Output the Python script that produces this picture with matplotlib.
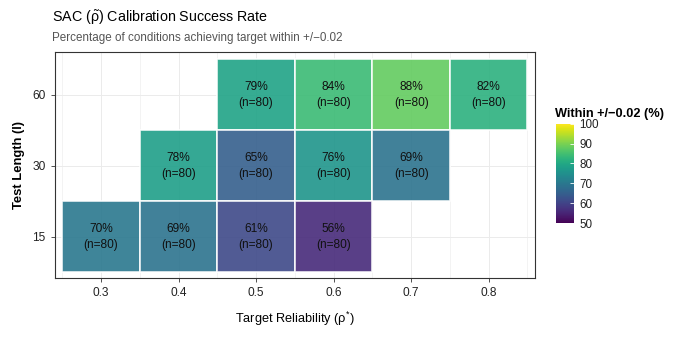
import numpy as np
import matplotlib
matplotlib.use("Agg")
import matplotlib.pyplot as plt
from matplotlib.colors import Normalize
from matplotlib.patches import Rectangle

plt.rcParams["font.family"] = ["Liberation Sans", "DejaVu Sans"]
plt.rcParams["mathtext.fontset"] = "custom"
plt.rcParams["mathtext.rm"] = "Liberation Sans"
plt.rcParams["mathtext.it"] = "Liberation Sans"

# data
reliability = [0.5, 0.6, 0.7, 0.8,
               0.4, 0.5, 0.6, 0.7,
               0.3, 0.4, 0.5, 0.6]
test_length = ["60", "60", "60", "60",
               "30", "30", "30", "30",
               "15", "15", "15", "15"]
success_pct = [79, 84, 88, 82,
               78, 65, 76, 69,
               70, 69, 61, 56]
n_conditions = [80] * 12

length_levels = ["15", "30", "60"]
x_ticks = [0.3, 0.4, 0.5, 0.6, 0.7, 0.8]

cmap = plt.get_cmap("viridis")
norm = Normalize(vmin=50, vmax=100)

fig = plt.figure(figsize=(6.74, 3.37), dpi=100)
ax = fig.add_axes([0.081, 0.175, 0.713, 0.671])

for x, yl, v, n in zip(reliability, test_length, success_pct, n_conditions):
    y = length_levels.index(yl)
    ax.add_patch(Rectangle((x - 0.05, y - 0.5), 0.1, 1.0,
                           facecolor=cmap(norm(v)), alpha=0.9,
                           edgecolor="white", linewidth=1.2, zorder=2))
    ax.text(x, y, f"{v}%\n(n={n})", ha="center", va="center",
            fontsize=8.6, color="#111111", linespacing=1.45, zorder=3)

ax.set_xlim(0.24, 0.86)
ax.set_ylim(-0.58, 2.6)
ax.set_xticks(x_ticks)
ax.set_xticklabels([f"{t:.1f}" for t in x_ticks])
ax.set_xticks(np.arange(0.25, 0.86, 0.1), minor=True)
ax.set_yticks(range(len(length_levels)))
ax.set_yticklabels(length_levels)

ax.grid(True, which="major", color="#ebebeb", linewidth=0.7, zorder=0)
ax.grid(True, which="minor", axis="x", color="#ebebeb", linewidth=0.4, zorder=0)
ax.set_axisbelow(True)
ax.tick_params(axis="both", which="major", labelsize=8.6, colors="#222222",
               length=3, width=0.6, color="#333333")
ax.tick_params(axis="both", which="minor", length=0)
for s in ax.spines.values():
    s.set_color("#333333")
    s.set_linewidth(0.8)

ax.set_xlabel(r"Target Reliability ($\rho^{*}$)", fontsize=9.2, labelpad=8)
ax.set_ylabel("Test Length (l)", fontsize=9.4, fontweight="bold", labelpad=5)

fig.text(0.077, 0.935, r"SAC ($\tilde{\rho}$) Calibration Success Rate",
         fontsize=10.3, ha="left", va="baseline")
fig.text(0.077, 0.877, "Percentage of conditions achieving target within +/\u22120.02",
         fontsize=8.4, color="#555555", ha="left", va="baseline")

# colour bar
cax = fig.add_axes([0.825, 0.338, 0.027, 0.295])
sm = plt.cm.ScalarMappable(norm=norm, cmap=cmap)
cb = fig.colorbar(sm, cax=cax, ticks=[50, 60, 70, 80, 90, 100])
cb.outline.set_visible(False)
cb.ax.tick_params(labelsize=8.4, colors="#222222", length=3, color="white",
                  direction="in", width=0.6)
cax.set_title("Within +/\u22120.02 (%)", fontsize=9.2, fontweight="bold",
              loc="left", pad=5, x=-0.05)

fig.savefig("out.png", dpi=100)
